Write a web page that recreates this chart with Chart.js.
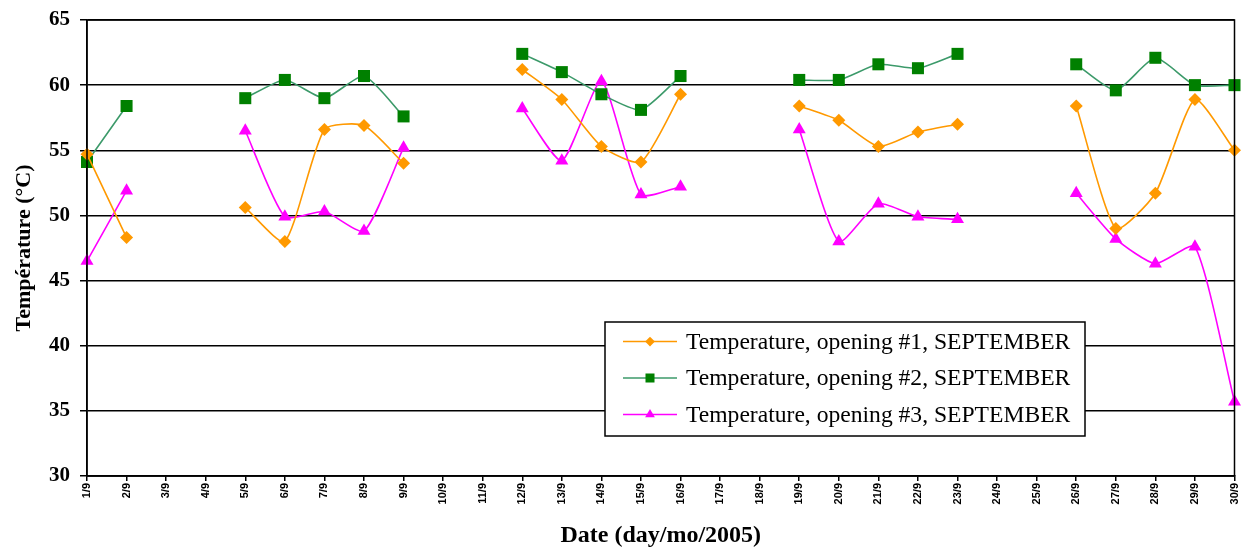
<!DOCTYPE html>
<html>
<head>
<meta charset="utf-8">
<script src="https://cdn.jsdelivr.net/npm/chart.js@4/dist/chart.umd.min.js"></script>
<style>
  html, body { margin: 0; padding: 0; background: #fff; }
  #wrap { width: 1243px; height: 547px; position: relative; }
</style>
</head>
<body>
<div id="wrap"><canvas id="c" width="1243" height="547"></canvas></div>
<script>
// Days of September 2005 (weekends have no readings)
const days = ['1/9','2/9','3/9','4/9','5/9','6/9','7/9','8/9','9/9','10/9',
  '11/9','12/9','13/9','14/9','15/9','16/9','17/9','18/9','19/9','20/9',
  '21/9','22/9','23/9','24/9','25/9','26/9','27/9','28/9','29/9','30/9'];

// Temperature (°C) measured at each opening
const opening1 = [54.7, 48.3, null, null, 50.6, 48.0, 56.6, 56.9, 54.0, null,
  null, 61.2, 58.9, 55.3, 54.1, 59.3, null, null, 58.4, 57.3,
  55.3, 56.4, 57.0, null, null, 58.4, 49.0, 51.7, 58.9, 55.0];
const opening2 = [54.1, 58.4, null, null, 59.0, 60.4, 59.0, 60.7, 57.6, null,
  null, 62.4, 61.0, 59.3, 58.1, 60.7, null, null, 60.4, 60.4,
  61.6, 61.3, 62.4, null, null, 61.6, 59.6, 62.1, 60.0, 60.0];
const opening3 = [46.5, 51.9, null, null, 56.5, 49.9, 50.3, 48.8, 55.2, null,
  null, 58.2, 54.2, 60.3, 51.6, 52.2, null, null, 56.6, 48.0,
  50.9, 49.9, 49.7, null, null, 51.7, 48.2, 46.3, 47.6, 35.7];

const seriesNames = [
  'Temperature, opening #1, SEPTEMBER',
  'Temperature, opening #2, SEPTEMBER',
  'Temperature, opening #3, SEPTEMBER'
];

const yMin = 30, yMax = 65, yStep = 5;

const styles = [
  { line: '#FF9900', fill: '#FF9900', point: 'rectRot', radius: 6.5 },
  { line: '#3C9A6A', fill: '#008000', point: 'rect', radius: 8.5 },
  { line: '#FF00FF', fill: '#FF00FF', point: 'triangle', radius: 7.5 }
];

const seriesData = [opening1, opening2, opening3];

const datasets = seriesData.map((d, i) => ({
  label: seriesNames[i],
  data: d,
  borderColor: styles[i].line,
  backgroundColor: styles[i].fill,
  pointBackgroundColor: styles[i].fill,
  pointBorderColor: styles[i].fill,
  pointBorderWidth: 0,
  pointStyle: styles[i].point,
  pointRadius: styles[i].radius,
  borderWidth: 1.6,
  tension: 0.2,
  spanGaps: false,
  clip: false
}));

// Boxed legend sitting inside the plot area, plus the plot frame
const frameAndLegend = {
  id: 'frameAndLegend',
  afterDatasetsDraw(chart) {
    const ctx = chart.ctx;
    const a = chart.chartArea;
    ctx.save();
    ctx.strokeStyle = '#000';
    ctx.lineWidth = 1.5;
    ctx.strokeRect(a.left, a.top, a.right - a.left, a.bottom - a.top);

    const bx = 605, by = 322, bw = 480, bh = 114;
    ctx.fillStyle = '#fff';
    ctx.fillRect(bx, by, bw, bh);
    ctx.lineWidth = 1.5;
    ctx.strokeStyle = '#000';
    ctx.strokeRect(bx, by, bw, bh);

    const rows = [341.5, 378, 414.5];
    ctx.font = '23.6px "Liberation Serif", "Times New Roman", serif';
    ctx.textBaseline = 'middle';
    ctx.textAlign = 'left';
    rows.forEach((ry, i) => {
      const s = styles[i];
      ctx.strokeStyle = s.line;
      ctx.lineWidth = 1.6;
      ctx.beginPath();
      ctx.moveTo(623, ry);
      ctx.lineTo(677, ry);
      ctx.stroke();
      ctx.fillStyle = s.fill;
      Chart.helpers.drawPoint(ctx, {
        pointStyle: s.point,
        radius: s.radius * 0.75,
        borderWidth: 0,
        rotation: 0
      }, 650, ry);
      ctx.fillStyle = '#000';
      ctx.fillText(seriesNames[i], 686, ry + 1);
    });
    ctx.restore();
  }
};

new Chart(document.getElementById('c'), {
  type: 'line',
  data: { labels: days, datasets },
  options: {
    responsive: false,
    animation: false,
    devicePixelRatio: 1,
    layout: { padding: { top: 20, right: 6, left: 0, bottom: 0 } },
    plugins: {
      legend: { display: false },
      tooltip: { enabled: false }
    },
    scales: {
      x: {
        offset: false,
        afterFit(scale) {
          scale.height = 71;
          scale.paddingLeft = 0;
          scale.paddingRight = 0;
        },
        grid: {
          drawOnChartArea: false,
          drawTicks: true,
          tickLength: 5,
          color: '#000',
          lineWidth: 1.5
        },
        border: { display: true, color: '#000', width: 1.5 },
        ticks: {
          autoSkip: false,
          minRotation: 90,
          maxRotation: 90,
          padding: 2,
          color: '#000',
          font: { family: '"Liberation Sans", Arial, sans-serif', size: 11, weight: 'bold' }
        },
        title: {
          display: true,
          text: 'Date (day/mo/2005)',
          color: '#000',
          padding: { top: 0, bottom: 0 },
          font: { family: '"Liberation Serif", "Times New Roman", serif', size: 24, weight: 'bold', lineHeight: 0.9 }
        }
      },
      y: {
        min: yMin,
        max: yMax,
        afterFit(scale) {
          scale.width = 87;
          scale.paddingTop = 0;
          scale.paddingBottom = 0;
        },
        grid: {
          color: '#000',
          lineWidth: 1.5,
          drawTicks: true,
          tickLength: 7
        },
        border: { display: true, color: '#000', width: 1.5 },
        ticks: {
          stepSize: yStep,
          padding: 10,
          color: '#000',
          font: { family: '"Liberation Serif", "Times New Roman", serif', size: 21, weight: 'bold' }
        },
        title: {
          display: true,
          text: 'Température (°C)',
          color: '#000',
          padding: { top: 11, bottom: 0 },
          font: { family: '"Liberation Serif", "Times New Roman", serif', size: 22, weight: 'bold', lineHeight: 1.2 }
        }
      }
    }
  },
  plugins: [frameAndLegend]
});
</script>
</body>
</html>
